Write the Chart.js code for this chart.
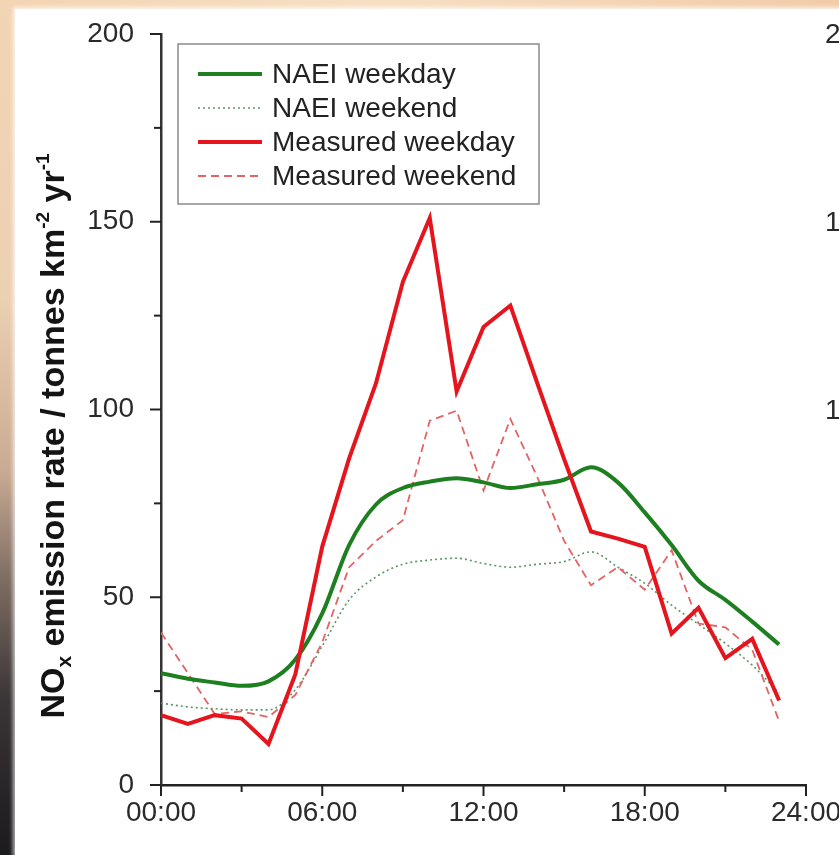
<!DOCTYPE html>
<html>
<head>
<meta charset="utf-8">
<script src="https://cdn.jsdelivr.net/npm/chart.js@4/dist/chart.umd.min.js"></script>
<style>
  html, body { margin: 0; padding: 0; width: 839px; height: 855px; overflow: hidden; }
  body { position: relative; font-family: "Liberation Sans", Arial, sans-serif; }
  #edge { position: absolute; left: 0; top: 0; width: 839px; height: 855px;
    background: linear-gradient(to bottom, #f2d5b4 0%, #ecd0b2 35%, #c9ab93 55%, #7d6c62 68%, #3a3436 82%, #1b1a1d 100%); }
  #topband { position: absolute; left: 0; top: 0; width: 839px; height: 9px;
    background: linear-gradient(to right, #f3d4b3 0%, #f7dfc4 45%, #f1cba8 100%); }
  #panel { position: absolute; left: 15px; top: 9px; width: 824px; height: 846px; background: #fff;
    box-shadow: 0 0 4px 2px rgba(255,255,255,0.7); }
  #c { position: absolute; left: 0; top: 0; }
  #ytitle { position: absolute; width: 660px; left: -278px; top: 417px; height: 38px; line-height: 38px;
    text-align: center; transform: rotate(-90deg); transform-origin: 50% 50%;
    font-weight: bold; font-size: 34px; color: #141414; white-space: nowrap; }
  #ytitle sub { font-size: 21px; vertical-align: -7px; line-height: 0; }
  #ytitle sup { font-size: 19px; vertical-align: 15px; line-height: 0; }
  .nb { position: absolute; left: 825px; font-size: 28px; color: #2a2a2a; line-height: 30px; }
</style>
</head>
<body>
<div id="edge"></div>
<div id="topband"></div>
<div id="panel"></div>
<canvas id="c" width="839" height="855"></canvas>
<div id="ytitle">NO<sub>x</sub> emission rate / tonnes km<sup>-2</sup> yr<sup>-1</sup></div>
<div class="nb" style="top:19px">200</div>
<div class="nb" style="top:207px">150</div>
<div class="nb" style="top:395px">100</div>
<script>
// Hour of day for each sample
const hours = [0, 1, 2, 3, 4, 5, 6, 7, 8, 9, 10, 11, 12, 13, 14, 15, 16, 17, 18, 19, 20, 21, 22, 23];

// NOx emission rate, tonnes km-2 yr-1
const naeiWeekday = [29.8, 28.3, 27.3, 26.4, 27.6, 33.4, 45.7, 63.9, 74.7, 79.1, 80.8, 81.7,
                     80.6, 79.1, 80.1, 81.3, 84.6, 80.6, 72.6, 63.9, 54.4, 49.3, 43.5, 37.4];
const naeiWeekend = [21.8, 20.8, 20.3, 20.0, 20.0, 25.4, 37.0, 49.3, 55.4, 58.8, 59.9, 60.4,
                     59.0, 58.0, 58.8, 59.5, 62.1, 58.0, 53.7, 47.9, 42.8, 37.7, 31.9, 24.5];
const measuredWeekday = [18.6, 16.3, 18.6, 17.7, 10.9, 29.5, 63.5, 87.0, 107.0, 134.0, 151.0, 104.8,
                         122.0, 127.7, 107.0, 86.8, 67.5, 65.6, 63.4, 40.3, 47.2, 33.8, 38.9, 22.5];
const measuredWeekend = [40.6, 29.8, 18.9, 19.6, 18.1, 24.0, 38.0, 58.0, 65.0, 70.5, 97.0, 99.7,
                         78.4, 97.5, 82.0, 65.0, 53.2, 58.0, 52.0, 62.5, 43.0, 42.0, 36.0, 17.0];

const seriesLabels = ['NAEI weekday', 'NAEI weekend', 'Measured weekday', 'Measured weekend'];

const yTicks = [0, 25, 50, 75, 100, 125, 150, 175, 200];
const xTickHours = [0, 3, 6, 9, 12, 15, 18, 21, 24];

const pts = arr => hours.map((h, i) => ({ x: h, y: arr[i] }));
const FONT = '"Liberation Sans", Arial, sans-serif';

// Tick marks drawn outside the axes: long at labelled values, short in between
const tickMarks = {
  id: 'tickMarks',
  afterDraw(chart) {
    const { ctx, chartArea: a, scales: { x, y } } = chart;
    ctx.save();
    ctx.strokeStyle = '#222';
    ctx.lineWidth = 2;
    x.ticks.forEach(t => {
      const px = x.getPixelForValue(t.value);
      const len = t.value % 6 === 0 ? 11 : 7;
      ctx.beginPath(); ctx.moveTo(px, a.bottom); ctx.lineTo(px, a.bottom + len); ctx.stroke();
    });
    y.ticks.forEach(t => {
      const py = y.getPixelForValue(t.value);
      const len = t.value % 50 === 0 ? 11 : 7;
      ctx.beginPath(); ctx.moveTo(a.left, py); ctx.lineTo(a.left - len, py); ctx.stroke();
    });
    ctx.restore();
  }
};

// Boxed legend in the upper left of the plot
const boxLegend = {
  id: 'boxLegend',
  afterDraw(chart) {
    const { ctx } = chart;
    const bx = 178, by = 44, bw = 361, bh = 160;
    ctx.save();
    ctx.strokeStyle = '#8a8a8a';
    ctx.lineWidth = 1.5;
    ctx.strokeRect(bx, by, bw, bh);
    ctx.font = '28px ' + FONT;
    ctx.fillStyle = '#222';
    ctx.textBaseline = 'middle';
    chart.data.datasets.forEach((ds, i) => {
      const yy = by + 30 + i * 34;
      ctx.beginPath();
      ctx.strokeStyle = ds.borderColor;
      ctx.lineWidth = ds.borderWidth;
      ctx.setLineDash(ds.borderDash || []);
      ctx.moveTo(bx + 20, yy); ctx.lineTo(bx + 84, yy);
      ctx.stroke();
      ctx.setLineDash([]);
      ctx.fillText(ds.label, bx + 94, yy + 1);
    });
    ctx.restore();
  }
};

new Chart(document.getElementById('c'), {
  type: 'line',
  data: {
    datasets: [
      { label: seriesLabels[0], data: pts(naeiWeekday), borderColor: '#1d7f1f', borderWidth: 4,
        cubicInterpolationMode: 'monotone', order: 2 },
      { label: seriesLabels[1], data: pts(naeiWeekend), borderColor: 'rgb(90,150,105)', borderWidth: 1.6,
        borderDash: [2, 3], cubicInterpolationMode: 'monotone', order: 4 },
      { label: seriesLabels[2], data: pts(measuredWeekday), borderColor: '#e5141d', borderWidth: 4, order: 1 },
      { label: seriesLabels[3], data: pts(measuredWeekend), borderColor: 'rgb(226,100,100)', borderWidth: 1.8,
        borderDash: [8, 5], order: 3 }
    ]
  },
  options: {
    responsive: false,
    animation: false,
    devicePixelRatio: 1,
    layout: { padding: { left: 0, top: 34, right: 33, bottom: 0 } },
    elements: { point: { radius: 0 }, line: { fill: false, borderJoinStyle: 'miter' } },
    plugins: { legend: { display: false }, tooltip: { enabled: false } },
    scales: {
      x: {
        type: 'linear', min: 0, max: 24,
        afterBuildTicks: s => { s.ticks = xTickHours.map(v => ({ value: v })); },
        afterFit: s => { s.height = 70; s.paddingLeft = 0; s.paddingRight = 0; },
        grid: { display: true, drawOnChartArea: false, drawTicks: true, tickLength: 11, color: 'transparent' },
        border: { display: true, color: '#222', width: 2.5 },
        ticks: {
          autoSkip: false, maxRotation: 0, padding: 0, color: '#2a2a2a',
          font: { size: 28, family: FONT },
          callback: v => v % 6 === 0 ? String(v).padStart(2, '0') + ':00' : ''
        }
      },
      y: {
        type: 'linear', min: 0, max: 200,
        afterBuildTicks: s => { s.ticks = yTicks.map(v => ({ value: v })); },
        afterFit: s => { s.width = 161; s.paddingTop = 0; s.paddingBottom = 0; },
        grid: { display: true, drawOnChartArea: false, drawTicks: true, tickLength: 11, color: 'transparent' },
        border: { display: true, color: '#333', width: 2.5 },
        ticks: {
          padding: 16, color: '#2a2a2a',
          font: { size: 28, family: FONT },
          callback: v => v % 50 === 0 ? String(v) : ''
        }
      }
    }
  },
  plugins: [tickMarks, boxLegend]
});
</script>
</body>
</html>
